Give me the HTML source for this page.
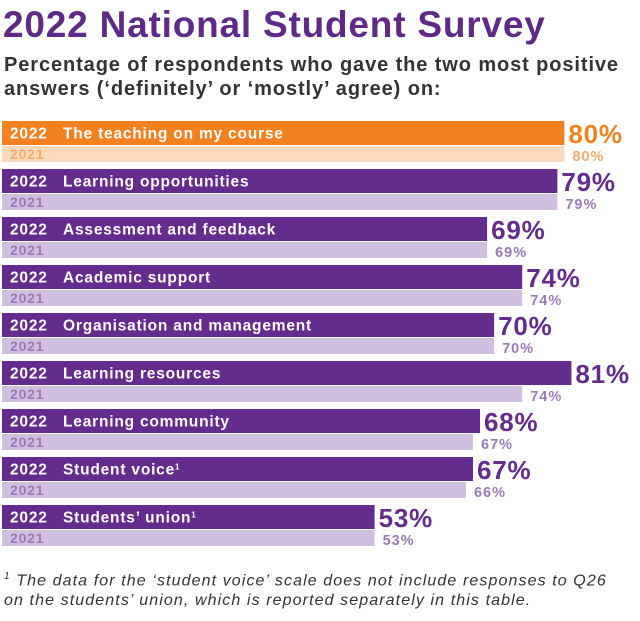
<!DOCTYPE html>
<html><head><meta charset="utf-8"><style>
body{margin:0;width:640px;height:621px;background:#fff;font-family:"Liberation Sans",sans-serif;overflow:hidden;position:relative}
h1{position:absolute;left:3px;top:4px;margin:0;font-size:37px;color:#5f2a87;font-weight:bold;letter-spacing:0.8px}
.sub{position:absolute;left:4px;top:53px;font-size:20px;font-weight:bold;color:#333;line-height:24px;letter-spacing:0.9px}
.foot{position:absolute;left:4px;top:567px;font-size:16px;font-style:italic;color:#333;line-height:20px;letter-spacing:1.1px}
</style></head><body>
<h1>2022 National Student Survey</h1>
<div class="sub">Percentage of respondents who gave the two most positive<br>answers (‘definitely’ or ‘mostly’ agree) on:</div>
<svg id="c" width="640" height="621" style="position:absolute;left:0;top:0"></svg>
<div class="foot"><sup style="font-size:10px">1</sup> The data for the ‘student voice’ scale does not include responses to Q26<br>on the students’ union, which is reported separately in this table.</div>
<script>
const categories=["The teaching on my course","Learning opportunities","Assessment and feedback","Academic support","Organisation and management","Learning resources","Learning community","Student voice","Students’ union"];
const sup=[false,false,false,false,false,false,false,true,true];
const values2022=[80,79,69,74,70,81,68,67,53];
const values2021=[80,79,69,74,70,74,67,66,53];
const NS="http://www.w3.org/2000/svg";
const svg=document.getElementById('c');
const x0=2, pxPer=7.03, top0=121, pitch=48;
const xs=v=>v*pxPer;
function mk(t,a){const e=document.createElementNS(NS,t);for(const k in a)e.setAttribute(k,a[k]);svg.appendChild(e);return e;}
categories.forEach((c,i)=>{
  const y=top0+i*pitch;
  const orange=i===0;
  const c1=orange?"#f48120":"#642c8d", c2=orange?"#fcd9bd":"#d1bfdf", t2=orange?"#f5a96a":"#9a7bb7";
  const b1=mk('rect',{x:x0,y:y,width:xs(values2022[i]),height:24,fill:c1});
  
  
  const b2=mk('rect',{x:x0,y:y+25,width:xs(values2021[i]),height:16,fill:c2});
  
  
  const l=mk('text',{x:10,y:y+17.5,fill:"#fff","font-size":15.5,"font-weight":"bold","letter-spacing":0.8});
  l.innerHTML='2022<tspan x="63">'+c+'</tspan>'+(sup[i]?'<tspan dy="-5" font-size="8">1</tspan>':'');
  
  
  const l2=mk('text',{x:10,y:y+38,fill:t2,"font-size":14,"font-weight":"bold","letter-spacing":0.8});
  l2.textContent="2021";
  
  
  const v1=mk('text',{x:x0+xs(values2022[i])+4,y:y+22,fill:c1,"font-size":26,"font-weight":"bold","letter-spacing":0.8});
  v1.textContent=values2022[i]+"%";
  
  
  const v2=mk('text',{x:x0+xs(values2021[i])+8,y:y+40,fill:t2,"font-size":14.5,"font-weight":"bold","letter-spacing":1});
  v2.textContent=values2021[i]+"%";
  
  
});
</script>
</body></html>
